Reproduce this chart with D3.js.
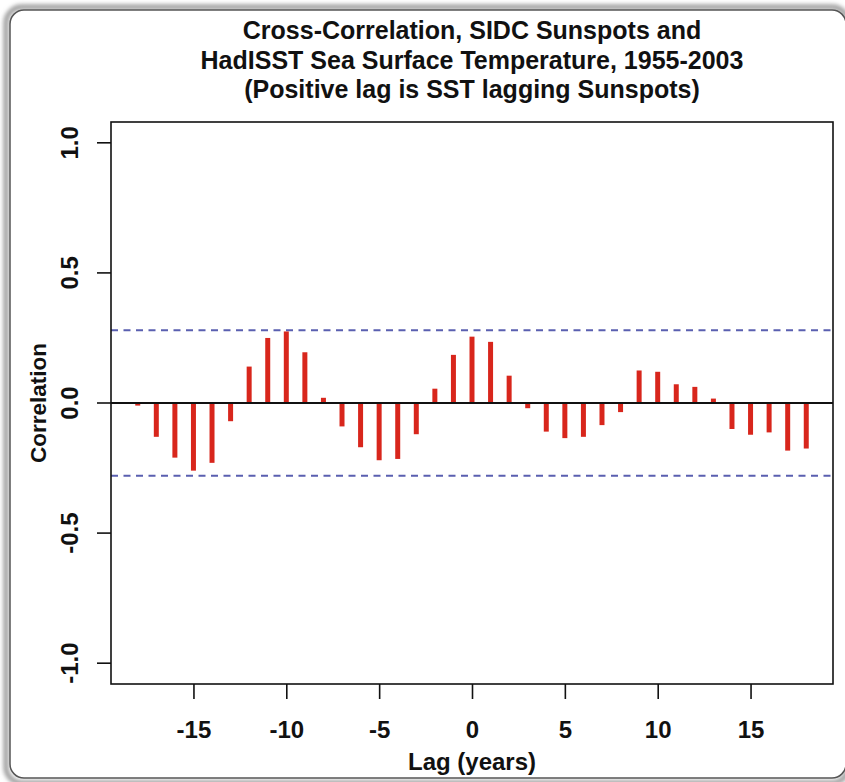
<!DOCTYPE html>
<html><head><meta charset="utf-8">
<script src="https://cdn.jsdelivr.net/npm/d3@7"></script>
<style>html,body{margin:0;padding:0;background:#fff;}svg{display:block;}</style>
</head><body>
<svg id="chart" width="845" height="782"></svg>
<script>
const lags = d3.range(-18, 19);
const correlation = [
  -0.01, -0.13, -0.21, -0.26, -0.23, -0.07, 0.14, 0.25, 0.275, 0.195, 0.02, -0.09,
  -0.17, -0.22, -0.215, -0.12, 0.055, 0.185, 0.255, 0.235, 0.105, -0.02, -0.11, -0.135,
  -0.13, -0.085, -0.035, 0.125, 0.12, 0.072, 0.062, 0.017, -0.1, -0.122, -0.113, -0.183, -0.175
];
const confidenceBound = 0.28;
const xTicks = [-15, -10, -5, 0, 5, 10, 15];
const yTicks = [-1.0, -0.5, 0.0, 0.5, 1.0];
const titleLines = [
  "Cross-Correlation, SIDC Sunspots and",
  "HadISST Sea Surface Temperature, 1955-2003",
  "(Positive lag is SST lagging Sunspots)"
];

const svg = d3.select("#chart");
const font = "'Liberation Sans', Arial, Helvetica, sans-serif";

// outer frame
const defs = svg.append("defs");
const f = defs.append("filter").attr("id","sh").attr("x","-5%").attr("y","-5%").attr("width","110%").attr("height","110%");
f.append("feGaussianBlur").attr("stdDeviation", 2);
svg.append("rect").attr("x",6).attr("y",7).attr("width",842).attr("height",776).attr("rx",16)
  .attr("fill","none").attr("stroke","#999").attr("stroke-width",5).attr("filter","url(#sh)");
svg.append("rect").attr("x",10).attr("y",10).attr("width",836).attr("height",768).attr("rx",14)
  .attr("fill","#fff").attr("stroke","#555").attr("stroke-width",1.5);

const L = 111, R = 833, T = 122, B = 684;
const x = d3.scaleLinear().domain([-19.44, 19.44]).range([L, R]);
const y = d3.scaleLinear().domain([-1.08, 1.08]).range([B, T]);

// title
svg.append("g").selectAll("text").data(titleLines).join("text")
  .attr("x", (L + R) / 2).attr("y", (d, i) => 39 + i * 29.5)
  .attr("text-anchor", "middle").attr("font-family", font).attr("font-weight", "bold")
  .attr("font-size", 25).attr("fill", "#111").text(d => d);

// axes
const xAxis = svg.append("g").attr("transform", `translate(0,${B})`)
  .call(d3.axisBottom(x).tickValues(xTicks).tickSize(15).tickFormat(d => String(d)));
xAxis.select(".domain").remove();
xAxis.selectAll("text").attr("y", 54).attr("dy", null)
  .attr("font-family", font).attr("font-weight", "bold").attr("font-size", 24).attr("fill", "#111");

const yAxis = svg.append("g").attr("transform", `translate(${L},0)`)
  .call(d3.axisLeft(y).tickValues(yTicks).tickSize(14).tickFormat(d => d.toFixed(1)));
yAxis.select(".domain").remove();
yAxis.selectAll("text")
  .attr("x", null).attr("dy", null).attr("y", null)
  .attr("text-anchor", "middle")
  .attr("transform", d => `translate(${78 - L},${y(d)}) rotate(-90)`)
  .attr("font-family", font).attr("font-weight", "bold").attr("font-size", 24).attr("fill", "#111");
yAxis.selectAll(".tick").attr("transform", null);
yAxis.selectAll(".tick line").attr("y1", d => y(d)).attr("y2", d => y(d));

[xAxis, yAxis].forEach(g => g.selectAll("line").attr("stroke", "#111").attr("stroke-width", 1.6));

// axis titles
svg.append("text").attr("x", (L + R) / 2).attr("y", 770).attr("text-anchor", "middle")
  .attr("font-family", font).attr("font-weight", "bold").attr("font-size", 24).attr("fill", "#111").text("Lag (years)");
svg.append("text").attr("transform", `translate(46,${(T + B) / 2}) rotate(-90)`)
  .attr("text-anchor", "middle").attr("font-family", font).attr("font-weight", "bold")
  .attr("font-size", 22.5).attr("fill", "#111").text("Correlation");

// confidence bounds
svg.append("g").selectAll("line").data([confidenceBound, -confidenceBound]).join("line")
  .attr("x1", L).attr("x2", R).attr("y1", d => y(d)).attr("y2", d => y(d))
  .attr("stroke", "#5a5fb0").attr("stroke-width", 2).attr("stroke-dasharray", "7,5.5");

// bars
svg.append("g").selectAll("line").data(lags).join("line")
  .attr("x1", d => x(d)).attr("x2", d => x(d))
  .attr("y1", y(0)).attr("y2", (d, i) => y(correlation[i]))
  .attr("stroke", "#d8261c").attr("stroke-width", 5);

// zero line
svg.append("line").attr("x1", L).attr("x2", R).attr("y1", y(0)).attr("y2", y(0))
  .attr("stroke", "#111").attr("stroke-width", 2);

// box
svg.append("rect").attr("x", L).attr("y", T).attr("width", R - L).attr("height", B - T)
  .attr("fill", "none").attr("stroke", "#111").attr("stroke-width", 1.6);
</script>
</body></html>
